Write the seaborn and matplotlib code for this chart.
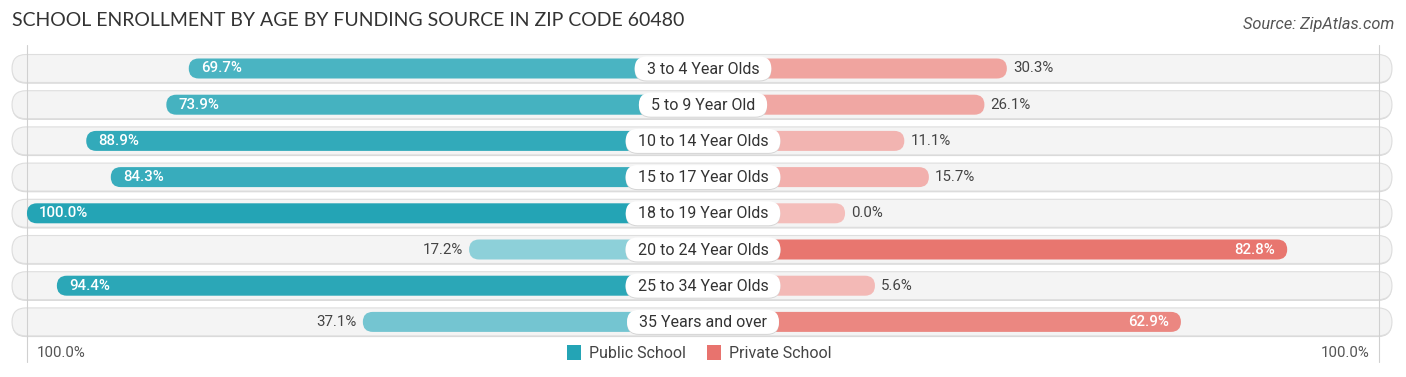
import matplotlib
matplotlib.use("Agg")
import matplotlib.pyplot as plt
import seaborn as sns
import pandas as pd
import numpy as np
from matplotlib.patches import FancyBboxPatch, Patch
from matplotlib.colors import to_rgb

categories = ["3 to 4 Year Olds", "5 to 9 Year Old", "10 to 14 Year Olds", "15 to 17 Year Olds",
              "18 to 19 Year Olds", "20 to 24 Year Olds", "25 to 34 Year Olds", "35 Years and over"]
public_vals = [69.7, 73.9, 88.9, 84.3, 100.0, 17.2, 94.4, 37.1]
private_vals = [30.3, 26.1, 11.1, 15.7, 0.0, 82.8, 5.6, 62.9]
series_names = ["Public School", "Private School"]
title = "SCHOOL ENROLLMENT BY AGE BY FUNDING SOURCE IN ZIP CODE 60480"
source = "Source: ZipAtlas.com"
axis_label = "100.0%"

W, H = 1406, 377
DPI = 100
CX = 703.0           # center pixel
PXU = 5.34           # px per percent
OFF = 26.6           # offset (label area) in percent units
ROW0, ROWSTEP = 68.5, 36.2

sns.set_theme(style="white")
plt.rcParams["font.family"] = ["Roboto", "DejaVu Sans"]

fig = plt.figure(figsize=(W / DPI, H / DPI), dpi=DPI)
ax = fig.add_axes([0, 0, 1, 1])

n = len(categories)
df = pd.DataFrame({
    "cat": categories * 2,
    "side": [series_names[0]] * n + [series_names[1]] * n,
    "val": [-(OFF + v) for v in public_vals] + [OFF + v for v in private_vals],
    "raw": public_vals + private_vals,
})

pub_dark, pub_light = np.array(to_rgb("#24a4b5")), np.array(to_rgb("#a3d9e1"))
pri_dark, pri_light = np.array(to_rgb("#e6675f")), np.array(to_rgb("#f4bebb"))

def col(v, dark, light):
    t = v / 100.0
    return tuple(light + (dark - light) * t)

sns.barplot(data=df, x="val", y="cat", hue="side", dodge=False, orient="h",
            palette=["#24a4b5", "#e6675f"], width=20 / ROWSTEP, ax=ax, legend=False,
            order=categories, hue_order=series_names)

ax.set_xlim(-CX / PXU, (W - CX) / PXU)
ax.set_ylim((H - ROW0) / ROWSTEP, -ROW0 / ROWSTEP)
ax.axis("off")

xu = 1.0 / PXU       # x units per px
yu = 1.0 / ROWSTEP   # y units per px
aspect = yu / xu

# Background pills
for i in range(n):
    h = 28 * yu
    x0 = (12 - CX) * xu
    x1 = (1392 - CX) * xu
    r = 14 * xu
    shadow = FancyBboxPatch((x0, i - h / 2 + 1.2 * yu), x1 - x0, h,
                            boxstyle=f"round,pad=0,rounding_size={r}", mutation_aspect=aspect,
                            facecolor="#d8d8d8", edgecolor="none", zorder=0.5)
    ax.add_patch(shadow)
    bg = FancyBboxPatch((x0, i - h / 2), x1 - x0, h,
                        boxstyle=f"round,pad=0,rounding_size={r}", mutation_aspect=aspect,
                        facecolor="#f4f4f4", edgecolor="#dedede", linewidth=0.8, zorder=0.6)
    ax.add_patch(bg)

# gridlines at +/-100%
for gx in (-(OFF + 100), OFF + 100):
    ax.plot([gx, gx], [-0.65, (362 - ROW0) * yu], color="#d0d0d0", lw=0.8, zorder=0.7)

# Replace bars with rounded bars
patches = list(ax.patches)
bar_patches = [p for p in patches if not isinstance(p, FancyBboxPatch)]
for p in bar_patches:
    x, y = p.get_x(), p.get_y()
    w, hgt = p.get_width(), p.get_height()
    if abs(w) < 1e-9:
        p.remove()
        continue
    ci = int(round(y + hgt / 2))
    is_pub = w < 0
    v = public_vals[ci] if is_pub else private_vals[ci]
    c = col(v, pub_dark, pub_light) if is_pub else col(v, pri_dark, pri_light)
    left = min(x, x + w)
    width = abs(w)
    p.remove()
    r = 10 * xu
    ax.add_patch(FancyBboxPatch((left, y), width, hgt,
                                boxstyle=f"round,pad=0,rounding_size={r}", mutation_aspect=aspect,
                                facecolor=c, edgecolor="none", zorder=2))

# Value labels
VFS = 10.8
for i in range(n):
    pv, rv = public_vals[i], private_vals[i]
    end_l = -(OFF + pv)
    if pv >= 50:
        ax.text(end_l + 12 * xu, i, f"{pv:.1f}%", ha="left", va="center", color="white",
                fontsize=VFS, fontweight="medium", zorder=5)
    else:
        ax.text(end_l - 6 * xu, i, f"{pv:.1f}%", ha="right", va="center", color="#444444",
                fontsize=VFS, zorder=5)
    end_r = OFF + rv
    if rv >= 50:
        ax.text(end_r - 12 * xu, i, f"{rv:.1f}%", ha="right", va="center", color="white",
                fontsize=VFS, fontweight="medium", zorder=5)
    else:
        ax.text(end_r + 6 * xu, i, f"{rv:.1f}%", ha="left", va="center", color="#444444",
                fontsize=VFS, zorder=5)

# Category labels with white pills
fig.canvas.draw()
renderer = fig.canvas.get_renderer()
for i, cat in enumerate(categories):
    t = ax.text(0, i + 0.5 * yu, cat, ha="center", va="center", fontsize=11.5, color="#333333", zorder=7)
    bb = t.get_window_extent(renderer=renderer)
    wpx = bb.width + 24
    h = 24 * yu
    r = 12 * xu
    ax.add_patch(FancyBboxPatch((-wpx / 2 * xu, i - h / 2 + 1.0 * yu), wpx * xu, h,
                                boxstyle=f"round,pad=0,rounding_size={r}", mutation_aspect=aspect,
                                facecolor="#d5d5d5", edgecolor="none", zorder=5.5))
    ax.add_patch(FancyBboxPatch((-wpx / 2 * xu, i - h / 2), wpx * xu, h,
                                boxstyle=f"round,pad=0,rounding_size={r}", mutation_aspect=aspect,
                                facecolor="white", edgecolor="none", zorder=6))

# Title and source
fig.text(12 / W, 1 - 21 / H, title, ha="left", va="center", fontsize=14.0, color="#333333",
         family=["Lato", "DejaVu Sans"])
fig.text(1394 / W, 1 - 25 / H, source, ha="right", va="center", fontsize=11.8, color="#555555",
         style="italic")

# Bottom axis labels
fig.text(37 / W, 1 - 353 / H, axis_label, ha="left", va="center", fontsize=10.8, color="#555555")
fig.text(1369 / W, 1 - 353 / H, axis_label, ha="right", va="center", fontsize=10.8, color="#555555")

# Legend
handles = [Patch(facecolor="#24a4b5", edgecolor="none"), Patch(facecolor="#e8736e", edgecolor="none")]
fig.legend(handles, series_names, loc="center", bbox_to_anchor=(699.5 / W, 1 - 353 / H), ncol=2,
           frameon=False, fontsize=11.5, handlelength=0.9, handleheight=1.1, handletextpad=0.5,
           columnspacing=1.3, labelcolor="#444444")

fig.savefig("out.png", dpi=DPI)
